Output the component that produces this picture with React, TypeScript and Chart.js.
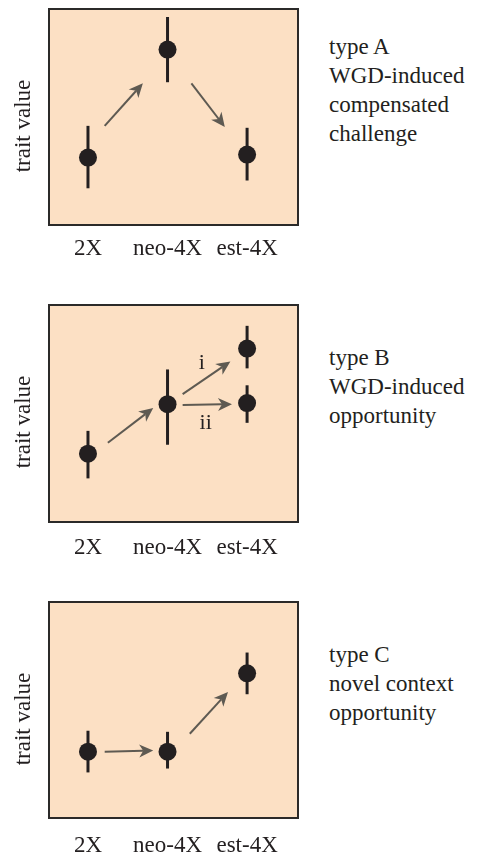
import { useEffect, useRef } from "react";
import { Chart, registerables } from "chart.js";

Chart.register(...registerables);

// ---- data ----
const categories = ["2X", "neo-4X", "est-4X"];
const tickPositions = [0, 1, 2];

// Panel A
const panelAX = [0, 1, 2];
const panelAValues = [31.2, 81.2, 32.6];
const panelALow = [17.0, 66.1, 20.6];
const panelAHigh = [45.9, 96.3, 45.0];
const panelAArrows = [
  [0.21, 45.9, 0.69, 65.6],
  [1.3, 65.6, 1.72, 45.4],
];
const panelAText = ["type A", "WGD-induced", "compensated", "challenge"];

// Panel B
const panelBX = [0, 1, 2, 2];
const panelBValues = [31.5, 54.3, 79.9, 54.8];
const panelBLow = [20.1, 35.6, 70.8, 45.7];
const panelBHigh = [42.0, 70.3, 90.4, 63.0];
const panelBArrows = [
  [0.25, 36.5, 0.82, 52.5],
  [1.19, 58.9, 1.79, 74.0],
  [1.19, 53.9, 1.81, 54.3],
];
const panelBLabels = [
  ["i", 1.43, 73.1],
  ["ii", 1.48, 45.7],
];
const panelBText = ["type B", "WGD-induced", "opportunity"];

// Panel C
const panelCX = [0, 1, 2];
const panelCValues = [30.7, 30.7, 67.0];
const panelCLow = [21.1, 22.9, 57.3];
const panelCHigh = [40.4, 39.9, 76.6];
const panelCArrows = [
  [0.21, 30.7, 0.82, 31.2],
  [1.28, 39.0, 1.76, 58.3],
];
const panelCText = ["type C", "novel context", "opportunity"];

const yAxisTitle = "trait value";

// ---- styles ----
const FONT = "'Liberation Serif', 'Times New Roman', serif";
const INK = "#231F20";
const ARROW = "#5E5A52";
const BG = "#FCE0C4";
const CW = 320;
const CH = 263;

type PanelProps = {
  top: number;
  boxTop: number;
  boxH: number;
  xs: number[];
  values: number[];
  low: number[];
  high: number[];
  arrows: number[][];
  labels?: (string | number)[][];
  text: string[];
  textTop: number;
  tickPad: number;
};

function drawArrow(ctx: CanvasRenderingContext2D, x1: number, y1: number, x2: number, y2: number) {
  const dx = x2 - x1;
  const dy = y2 - y1;
  const len = Math.hypot(dx, dy);
  const ux = dx / len;
  const uy = dy / len;
  const px = -uy;
  const py = ux;
  const headL = 14;
  const headW = 6.5;
  const notch = 4;
  ctx.save();
  ctx.strokeStyle = ARROW;
  ctx.fillStyle = ARROW;
  ctx.lineWidth = 2;
  ctx.beginPath();
  ctx.moveTo(x1, y1);
  ctx.lineTo(x2 - ux * (headL - notch), y2 - uy * (headL - notch));
  ctx.stroke();
  ctx.beginPath();
  ctx.moveTo(x2, y2);
  ctx.lineTo(x2 - ux * headL + px * headW, y2 - uy * headL + py * headW);
  ctx.lineTo(x2 - ux * (headL - notch), y2 - uy * (headL - notch));
  ctx.lineTo(x2 - ux * headL - px * headW, y2 - uy * headL - py * headW);
  ctx.closePath();
  ctx.fill();
  ctx.restore();
}

function Panel(p: PanelProps) {
  const ref = useRef<HTMLCanvasElement>(null);
  useEffect(() => {
    let chart: Chart | null = null;
    let cancelled = false;
    const build = () => {
      if (cancelled || !ref.current) return;
      const decor = {
        id: "decor",
        beforeDatasetsDraw(c: any) {
          const { ctx, chartArea: a, scales } = c;
          const xs = scales.x;
          const ys = scales.y;
          ctx.save();
          ctx.fillStyle = BG;
          ctx.fillRect(a.left, a.top, a.right - a.left, a.bottom - a.top);
          ctx.strokeStyle = INK;
          ctx.lineWidth = 3;
          for (let i = 0; i < p.xs.length; i++) {
            const x = xs.getPixelForValue(p.xs[i]);
            ctx.beginPath();
            ctx.moveTo(x, ys.getPixelForValue(p.low[i]));
            ctx.lineTo(x, ys.getPixelForValue(p.high[i]));
            ctx.stroke();
          }
          for (const ar of p.arrows) {
            drawArrow(
              ctx,
              xs.getPixelForValue(ar[0]),
              ys.getPixelForValue(ar[1]),
              xs.getPixelForValue(ar[2]),
              ys.getPixelForValue(ar[3])
            );
          }
          ctx.fillStyle = INK;
          ctx.font = `22px ${FONT}`;
          ctx.textAlign = "center";
          ctx.textBaseline = "middle";
          for (const lb of p.labels || []) {
            ctx.fillText(String(lb[0]), xs.getPixelForValue(lb[1] as number), ys.getPixelForValue(lb[2] as number));
          }
          ctx.restore();
        },
        afterDraw(c: any) {
          const { ctx, chartArea: a } = c;
          ctx.save();
          ctx.strokeStyle = "#2B2A29";
          ctx.lineWidth = 2;
          ctx.strokeRect(a.left, a.top, a.right - a.left, a.bottom - a.top);
          ctx.translate(24, 126);
          ctx.rotate(-Math.PI / 2);
          ctx.fillStyle = INK;
          ctx.font = `23px ${FONT}`;
          ctx.textAlign = "center";
          ctx.textBaseline = "middle";
          ctx.fillText(yAxisTitle, 0, 0);
          ctx.restore();
        },
      };
      chart = new Chart(ref.current, {
        type: "scatter",
        data: {
          datasets: [
            {
              data: p.xs.map((x, i) => ({ x, y: p.values[i] })),
              pointRadius: 9,
              pointHoverRadius: 9,
              backgroundColor: INK,
              borderWidth: 0,
            },
          ],
        },
        options: {
          animation: false,
          responsive: false,
          devicePixelRatio: 1,
          events: [],
          layout: { padding: { left: 49, top: p.boxTop, right: CW - 298, bottom: 0 } },
          plugins: { legend: { display: false }, tooltip: { enabled: false } },
          scales: {
            x: {
              type: "linear",
              min: -0.49,
              max: 2.64,
              grid: { display: false, drawTicks: false },
              border: { display: false },
              afterFit(scale: any) {
                scale.height = CH - p.boxTop - p.boxH;
              },
              afterBuildTicks(scale: any) {
                scale.ticks = tickPositions.map((v) => ({ value: v }));
              },
              ticks: {
                padding: p.tickPad,
                color: INK,
                font: { family: FONT, size: 23 },
                callback: (v: any) => categories[Number(v)] ?? "",
              },
            },
            y: { display: false, min: 0, max: 100 },
          },
        },
        plugins: [decor],
      } as any);
    };
    const fonts = (document as any).fonts;
    if (fonts && fonts.load) {
      fonts.load(`23px "Liberation Serif"`).then(build, build);
    } else {
      build();
    }
    return () => {
      cancelled = true;
      if (chart) chart.destroy();
    };
  }, []);
  return (
    <>
      <canvas
        ref={ref}
        width={CW}
        height={CH}
        style={{ position: "absolute", left: 0, top: p.top, width: CW, height: CH }}
      />
      <div
        style={{
          position: "absolute",
          left: 329,
          top: p.textTop,
          fontFamily: FONT,
          fontSize: 23,
          lineHeight: "29px",
          color: INK,
          whiteSpace: "nowrap",
        }}
      >
        {p.text.map((t, i) => (
          <div key={i}>{t}</div>
        ))}
      </div>
    </>
  );
}

export default function App() {
  return (
    <div style={{ position: "absolute", left: 0, top: 0, width: 478, height: 856, background: "#fff", overflow: "hidden" }}>
      <Panel top={0} boxTop={7} boxH={218} xs={panelAX} values={panelAValues} low={panelALow} high={panelAHigh}
        arrows={panelAArrows} text={panelAText} textTop={32} tickPad={10} />
      <Panel top={296} boxTop={7} boxH={219} xs={panelBX} values={panelBValues} low={panelBLow} high={panelBHigh}
        arrows={panelBArrows} labels={panelBLabels} text={panelBText} textTop={343} tickPad={12} />
      <Panel top={593} boxTop={7} boxH={218} xs={panelCX} values={panelCValues} low={panelCLow} high={panelCHigh}
        arrows={panelCArrows} text={panelCText} textTop={640} tickPad={14} />
    </div>
  );
}
